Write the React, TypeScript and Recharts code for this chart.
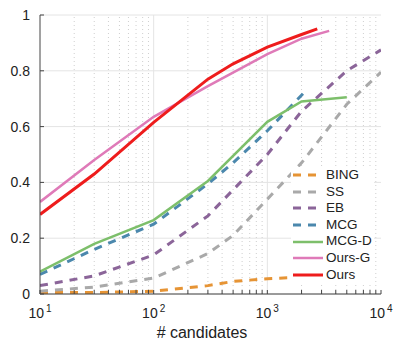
import { LineChart, Line, XAxis, YAxis, CartesianGrid, ReferenceLine } from 'recharts';

// x: number of candidates (log), y: recall
const X_MAJOR = [10, 100, 1000, 10000];
const X_MINOR = [20, 30, 40, 50, 60, 70, 80, 90, 200, 300, 400, 500, 600, 700, 800, 900, 2000, 3000, 4000, 5000, 6000, 7000, 8000, 9000];
const Y_TICKS = [0, 0.2, 0.4, 0.6, 0.8, 1];

const BING = [[10, 0.005], [30, 0.005], [100, 0.01], [300, 0.03], [500, 0.045], [1000, 0.055], [2000, 0.06]];
const SS = [[10, 0.01], [30, 0.025], [100, 0.057], [300, 0.145], [500, 0.21], [1000, 0.34], [2000, 0.47], [5000, 0.68], [10000, 0.795]];
const EB = [[10, 0.03], [30, 0.065], [100, 0.14], [300, 0.28], [1000, 0.5], [2000, 0.655], [5000, 0.8], [10000, 0.875]];
const MCG = [[10, 0.07], [30, 0.16], [100, 0.25], [300, 0.395], [500, 0.47], [1000, 0.585], [2200, 0.73]];
const MCG_D = [[10, 0.08], [30, 0.18], [100, 0.265], [300, 0.405], [1000, 0.617], [2000, 0.69], [5000, 0.705]];
const OURS_G = [[10, 0.33], [30, 0.48], [100, 0.635], [300, 0.745], [1000, 0.86], [2000, 0.915], [3500, 0.943]];
const OURS = [[10, 0.285], [30, 0.43], [100, 0.615], [300, 0.77], [500, 0.825], [1000, 0.885], [2000, 0.93], [2750, 0.95]];

const SERIES = [
  { name: 'BING', points: BING, color: '#e69435', dash: '8 7', width: 3 },
  { name: 'SS', points: SS, color: '#a9a9a9', dash: '8 7', width: 3 },
  { name: 'EB', points: EB, color: '#8b6599', dash: '8 7', width: 3 },
  { name: 'MCG', points: MCG, color: '#4b88ad', dash: '8 7', width: 3 },
  { name: 'MCG-D', points: MCG_D, color: '#7dbf6b', dash: undefined, width: 2.5 },
  { name: 'Ours-G', points: OURS_G, color: '#df7ab8', dash: undefined, width: 2.5 },
  { name: 'Ours', points: OURS, color: '#ee1c1c', dash: undefined, width: 3 },
];

const ALL_X = [...X_MAJOR, ...X_MINOR].sort((a, b) => a - b);
const FONT = '"Liberation Sans", Arial, sans-serif';
const AXIS = '#444';

function LogTick({ x, y, payload }: any) {
  const v = payload.value;
  if (!X_MAJOR.includes(v)) return null;
  const e = Math.round(Math.log10(v));
  return (
    <text x={x} y={y + 24} textAnchor="middle" fill="#222" fontSize={14} fontFamily={FONT}>
      <tspan>10</tspan>
      <tspan dx={2} dy={-6} fontSize={10}>{e}</tspan>
    </text>
  );
}

export default function App() {
  return (
    <div style={{ position: 'absolute', left: 0, top: 0, width: 393, height: 343, background: '#fff', fontFamily: FONT }}>
      <LineChart width={393} height={343} margin={{ top: 15, right: 12, left: 0, bottom: 0 }}>
        <CartesianGrid vertical={false} stroke="#e4e4e4" />
        {X_MINOR.map((v) => (
          <ReferenceLine key={v} x={v} stroke="#cfcfcf" strokeDasharray="1 3" />
        ))}
        {[100, 1000].map((v) => (
          <ReferenceLine key={v} x={v} stroke="#e4e4e4" />
        ))}
        <XAxis
          dataKey="x"
          type="number"
          scale="log"
          domain={[10, 10000]}
          allowDataOverflow
          ticks={ALL_X}
          interval={0}
          tick={<LogTick />}
          tickSize={-4}
          tickMargin={4}
          height={49}
          stroke={AXIS}
        />
        <XAxis
          xAxisId="top"
          orientation="top"
          dataKey="x"
          type="number"
          scale="log"
          domain={[10, 10000]}
          allowDataOverflow
          ticks={ALL_X}
          interval={0}
          tick={false}
          tickSize={-4}
          height={0}
          stroke={AXIS}
        />
        <YAxis
          type="number"
          domain={[0, 1]}
          ticks={Y_TICKS}
          interval={0}
          tickSize={-4}
          tickMargin={14}
          width={40}
          stroke={AXIS}
          tick={{ fontSize: 14, fill: '#222', fontFamily: FONT }}
          tickFormatter={(v: number) => String(v)}
        />
        <YAxis
          yAxisId="right"
          orientation="right"
          type="number"
          domain={[0, 1]}
          ticks={Y_TICKS}
          interval={0}
          tick={false}
          tickSize={-4}
          width={0}
          stroke={AXIS}
        />
        {SERIES.map((s) => (
          <Line
            key={s.name}
            data={s.points.map(([x, y]) => ({ x, y }))}
            dataKey="y"
            name={s.name}
            type="linear"
            stroke={s.color}
            strokeWidth={s.width}
            strokeDasharray={s.dash}
            dot={false}
            activeDot={false}
            isAnimationActive={false}
          />
        ))}
      </LineChart>
      <div style={{ position: 'absolute', left: 102, top: 325, width: 200, textAlign: 'center', fontSize: 16, lineHeight: '16px', color: '#222' }}>
        # candidates
      </div>
      <div style={{ position: 'absolute', left: 291, top: 167, width: 83, background: '#fff' }}>
        {SERIES.map((s) => (
          <div key={s.name} style={{ display: 'flex', alignItems: 'center', height: 16.6, fontSize: 13.5, color: '#222' }}>
            <svg width={34} height={10} style={{ flex: 'none' }}>
              <line x1={2} y1={5} x2={32} y2={5} stroke={s.color} strokeWidth={s.width} strokeDasharray={s.dash} />
            </svg>
            <span style={{ marginLeft: 1, lineHeight: '16.6px' }}>{s.name}</span>
          </div>
        ))}
      </div>
    </div>
  );
}
